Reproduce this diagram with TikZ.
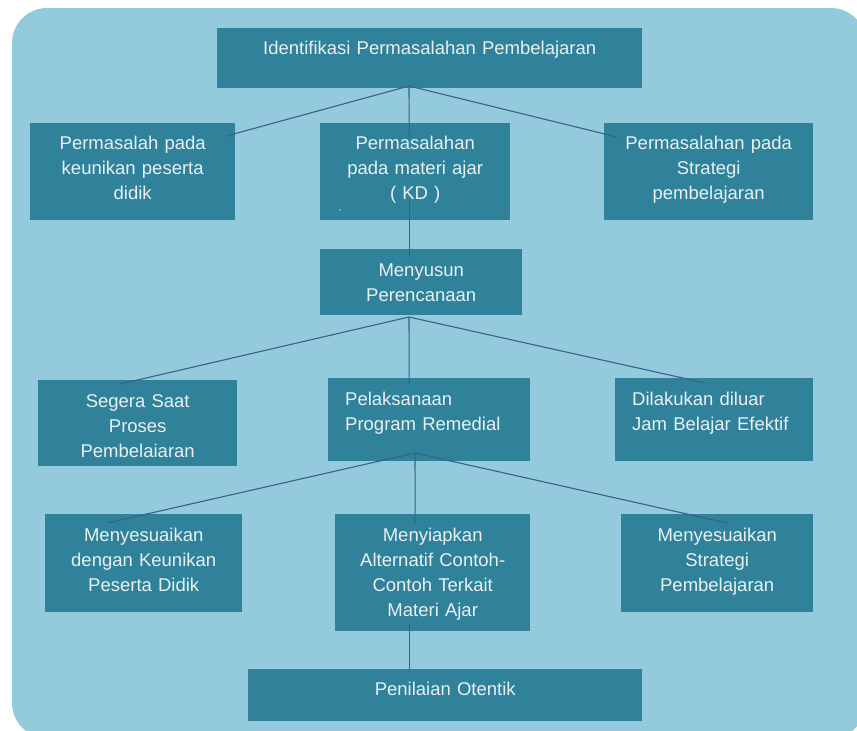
\documentclass[tikz,border=0pt]{standalone}
\usepackage{fontspec}
\setmainfont{Liberation Sans}
\definecolor{bgblue}{HTML}{93CBDD}
\definecolor{boxteal}{HTML}{2F8299}
\definecolor{boxtext}{HTML}{E8F0F2}
\definecolor{linkblue}{HTML}{3B5E8C}

\begin{document}
\begin{tikzpicture}[x=1pt,y=-1pt,
    box/.style={fill=boxteal, text=boxtext, anchor=north west, inner sep=0pt,
        align=center, font=\fontsize{18.5}{25}\selectfont, text height=26pt},
    leftbox/.style={box, align=left, inner xsep=17pt},
    link/.style={draw=linkblue, line width=1.1pt}]
        \clip (0,0) rectangle (857,731);
        \fill[bgblue][rounded corners=35pt] (12,8) rectangle (866,738);
        \node[box, text width=425pt, text depth=34pt] (idf) at (217,28) {Identifikasi Permasalahan Pembelajaran};
        \node[box, text width=205pt, text depth=71pt] (kunik) at (30,123) {Permasalah pada\\keunikan peserta\\didik};
        \node[box, text width=190pt, text depth=71pt] (materi) at (320,123) {Permasalahan\\pada materi ajar\\( KD )};
        \node[box, text width=209pt, text depth=71pt] (strat) at (604,123) {Permasalahan pada\\Strategi\\pembelajaran};
        \node[text=boxtext, inner sep=0pt, font=\fontsize{8}{8}\selectfont] (dash) at (340,211) {-};
        \node[box, text width=202pt, text depth=39pt, text height=27pt] (susun) at (320,249) {Menyusun\\Perencanaan};
        \node[box, text width=199pt, text depth=59pt, text height=27pt] (segera) at (38,380) {Segera Saat\\Proses\\Pembelaiaran};
        \node[leftbox, text width=168pt, text depth=56pt, text height=27pt] (laksana) at (328,378) {Pelaksanaan\\Program Remedial};
        \node[leftbox, text width=164pt, text depth=56pt, text height=27pt] (diluar) at (615,378) {Dilakukan diluar\\Jam Belajar Efektif};
        \node[box, text width=197pt, text depth=71pt, text height=27pt] (sesuai) at (45,514) {Menyesuaikan\\dengan Keunikan\\Peserta Didik};
        \node[box, text width=195pt, text depth=90pt, text height=27pt] (siapkan) at (335,514) {Menyiapkan\\Alternatif Contoh-\\Contoh Terkait\\Materi Ajar};
        \node[box, text width=192pt, text depth=71pt, text height=27pt] (sstrat) at (621,514) {Menyesuaikan\\Strategi\\Pembelajaran};
        \node[box, text width=394pt, text depth=26pt] (otentik) at (248,669) {Penilaian Otentik};
        \coordinate (top) at (409,86);
        \coordinate (mid) at (409,317);
        \coordinate (low) at (415,453);
        \draw[link] ([xshift=-9pt,yshift=-13pt]kunik.north east) -- (top) -- ([xshift=13pt,yshift=-14pt]strat.north west);
        \draw[link] (top) -- ([xshift=-6pt,yshift=-14pt]materi.north);
        \draw[link] ([xshift=-6pt,yshift=20pt]materi.south) -- ([xshift=-12pt,yshift=-8pt]susun.north);
        \draw[link] ([xshift=-17.5pt,yshift=-4pt]segera.north) -- (mid) -- ([xshift=-9pt,yshift=-5pt]diluar.north);
        \draw[link] (mid) -- ([xshift=-20pt,yshift=-5pt]laksana.north);
        \draw[link] ([xshift=-36.5pt,yshift=-9pt]sesuai.north) -- (low) -- ([xshift=10pt,yshift=-9pt]sstrat.north);
        \draw[link] (low) -- ([xshift=-17.5pt,yshift=-9pt]siapkan.north);
        \draw[link] ([xshift=-23.5pt,yshift=8pt]siapkan.south) -- ([xshift=-36pt]otentik.north);
    \end{tikzpicture}
\end{document}
